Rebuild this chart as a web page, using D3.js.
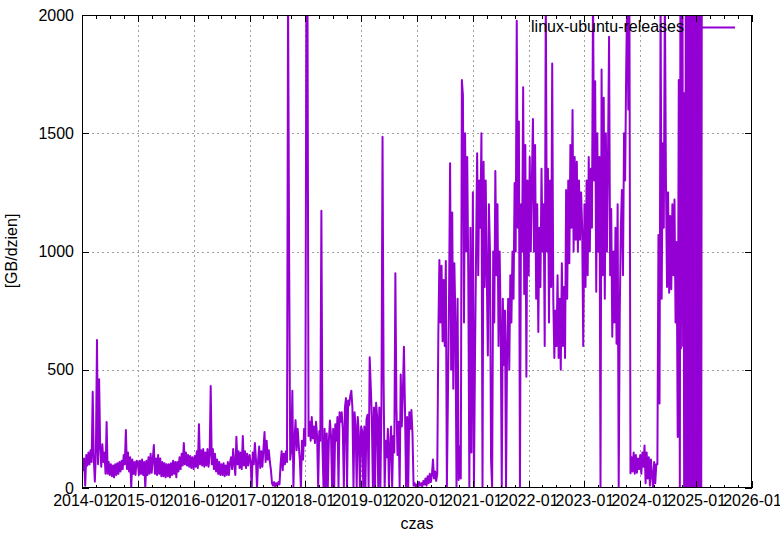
<!DOCTYPE html>
<html><head><meta charset="utf-8">
<script src="https://cdn.jsdelivr.net/npm/d3@7"></script>
<style>
body{margin:0;background:#fff}
svg text{font-family:"Liberation Sans",Arial,sans-serif}
</style>
</head><body>
<svg id="chart" width="780" height="538"></svg>
<script>
// ---- data (weekly samples, GB/day) ----
const seriesName = "linux-ubuntu-releases";
const yTickValues = [0, 500, 1000, 1500, 2000];
const xTickYears = [2014,2015,2016,2017,2018,2019,2020,2021,2022,2023,2024,2025,2026];
const xLabel = "czas";
const yLabel = "[GB/dzien]";

const v2014 = [130,75,125,10,140,95,150,100,160,110,407,130,27,150,626,100,460,170,90,185,110,150,60,279,60,110,55,100,50,95,45,100,55,105,60,110,70,115,80,140,100,245,80,150,70,130,0,120,60,110,55,115];
const v2015 = [110,55,115,60,120,55,110,0,115,55,130,60,145,65,120,182,60,125,55,140,60,125,50,110,50,105,45,100,50,100,45,105,55,115,60,110,45,110,70,130,80,145,95,190,100,150,95,140,90,135,85,130];
const v2016 = [80,135,90,155,85,270,100,160,95,165,90,150,95,165,90,140,431,100,165,80,145,70,120,60,110,55,100,55,105,50,95,55,110,55,105,130,80,165,100,55,217,100,155,85,150,80,220,95,155,85,145,95];
const v2017 = [140,110,0,150,100,190,120,0,115,175,85,155,90,165,237,110,200,120,160,110,76,20,10,25,5,20,10,25,15,100,155,75,145,100,155,110,2100,985,120,160,411,0,200,287,160,250,180,120,0,200,120,250];
const v2018 = [180,2100,2100,220,280,200,300,210,260,190,280,220,0,240,200,1172,180,0,250,0,230,0,200,285,220,0,250,0,270,200,300,0,320,280,320,250,0,340,380,0,370,350,390,411,340,0,320,260,0,300,230,0];
const v2019 = [260,240,0,260,0,290,310,0,553,430,300,0,340,0,360,300,0,340,0,350,1485,456,0,200,130,250,0,180,260,0,220,150,908,340,140,280,0,480,260,400,597,330,0,300,0,320,250,330,230,10,20,5];
const v2020 = [15,5,25,10,20,5,30,15,40,10,50,20,60,25,55,120,40,70,30,60,647,964,700,940,620,880,600,960,0,400,800,1373,500,1165,420,950,700,0,800,34,175,40,1725,1660,700,1500,1000,1400,900,0,1100,150];
const v2021 = [1250,0,560,1000,1415,900,1300,1100,1500,0,1380,850,1300,900,560,1200,1000,118,0,1000,700,1340,900,1200,600,1000,700,0,800,520,750,0,600,800,500,900,700,1000,800,1290,1000,1976,1100,1550,0,1200,1000,1695,820,1450,470,1300];
const v2022 = [900,1400,1000,1300,1560,1000,1450,800,1200,660,1100,850,1350,1000,1200,600,2100,1000,1350,700,1300,850,1795,800,550,750,600,900,550,800,500,950,600,850,550,1260,800,1300,950,1450,1100,1598,1000,1400,1050,1380,1000,1300,1050,1250,1100,600];
const v2023 = [1200,850,1300,900,1400,1000,1350,1100,2100,1300,1720,830,1500,1000,1400,0,1770,900,1650,800,1500,1000,1400,1908,900,1180,640,1000,700,1100,610,1200,0,750,1100,1260,900,1500,1300,1770,2100,1600,2100,62,130,70,150,60,140,65,125,80];
const v2024 = [140,60,150,90,180,20,150,40,130,10,120,55,0,110,20,100,100,1070,357,2100,800,1458,1100,2100,1300,850,1250,826,1150,840,1200,900,1220,700,1040,216,1725];
// half-weekly samples for the final burst (from 2024-09-16), where the daily series swings 0 <-> >2000
const burstStart = "2024-09-16";
const burst = [0,2100,590,2100,700,2100,600,1670,0,1670,0,2100,0,2100,0,2100,0,2100,0,2100,0,2100,0,2100,0,2100,0,2100,0,2100,0,2100,0,2100,0,2100,0,2100,0,2100,0,2100];

const yearly = [[2014,v2014],[2015,v2015],[2016,v2016],[2017,v2017],[2018,v2018],[2019,v2019],
  [2020,v2020],[2021,v2021],[2022,v2022],[2023,v2023],[2024,v2024]];
const DAY = 86400000;
const data = [];
yearly.forEach(([yr, vals]) => vals.forEach((v, i) =>
  data.push({date: new Date(Date.UTC(yr, 0, 1 + 7 * i)), value: v})));
const b0 = d3.utcParse("%Y-%m-%d")(burstStart).getTime();
burst.forEach((v, i) => data.push({date: new Date(b0 + i * 3.5 * DAY), value: v}));

// ---- layout ----
const L = 82, R = 752, T = 15, B = 488;
const svg = d3.select("#chart");
const x = d3.scaleUtc()
  .domain([new Date(Date.UTC(xTickYears[0],0,1)), new Date(Date.UTC(xTickYears[xTickYears.length-1],0,1))])
  .range([L, R]);
const y = d3.scaleLinear().domain([0, 2000]).range([B, T]);

const yearDates = xTickYears.map(yr => new Date(Date.UTC(yr, 0, 1)));
const quarterDates = d3.utcMonth.every(3).range(yearDates[0], yearDates[yearDates.length-1])
  .filter(d => d.getUTCMonth() !== 0);

// ---- grid ----
const grid = svg.append("g").attr("stroke", "#a0a0a0").attr("stroke-width", 1)
  .attr("stroke-dasharray", "2,3").attr("shape-rendering", "crispEdges");
grid.selectAll("line.gx").data(yearDates.slice(1, -1)).join("line")
  .attr("x1", d => Math.round(x(d)) + 0.5).attr("x2", d => Math.round(x(d)) + 0.5)
  .attr("y1", T).attr("y2", B);
grid.selectAll("line.gy").data(yTickValues.slice(1, -1)).join("line")
  .attr("y1", d => Math.round(y(d)) + 0.5).attr("y2", d => Math.round(y(d)) + 0.5)
  .attr("x1", L).attr("x2", R);

// ---- data line ----
svg.append("clipPath").attr("id", "clip").append("rect")
  .attr("x", L).attr("y", T).attr("width", R - L).attr("height", B - T);
svg.append("path").datum(data)
  .attr("clip-path", "url(#clip)")
  .attr("fill", "none").attr("stroke", "#9400D3").attr("stroke-width", 2)
  .attr("stroke-linejoin", "round")
  .attr("d", d3.line().x(d => x(d.date)).y(d => y(d.value)));

// ---- axes ----
function styleAxis(g) {
  g.select(".domain").remove();
  g.selectAll("line").attr("stroke", "#000").attr("shape-rendering", "crispEdges");
  g.selectAll("text").attr("font-size", 16).attr("fill", "#000")
    .attr("font-family", '"Liberation Sans", Arial, sans-serif');
}
svg.append("g").attr("transform", `translate(0,${B})`)
  .call(d3.axisBottom(x).tickValues(yearDates).tickFormat(d3.utcFormat("%Y-%m"))
    .tickSizeInner(-7).tickSizeOuter(0).tickPadding(7)).call(styleAxis);
svg.append("g").attr("transform", `translate(0,${B})`)
  .call(d3.axisBottom(x).tickValues(quarterDates).tickFormat("")
    .tickSizeInner(-3.5).tickSizeOuter(0)).call(styleAxis);
svg.append("g").attr("transform", `translate(0,${T})`)
  .call(d3.axisTop(x).tickValues(yearDates).tickFormat("")
    .tickSizeInner(-7).tickSizeOuter(0)).call(styleAxis);
svg.append("g").attr("transform", `translate(0,${T})`)
  .call(d3.axisTop(x).tickValues(quarterDates).tickFormat("")
    .tickSizeInner(-3.5).tickSizeOuter(0)).call(styleAxis);
svg.append("g").attr("transform", `translate(${L},0)`)
  .call(d3.axisLeft(y).tickValues(yTickValues).tickFormat(d3.format("d"))
    .tickSizeInner(-7).tickSizeOuter(0).tickPadding(8)).call(styleAxis);
svg.append("g").attr("transform", `translate(${R},0)`)
  .call(d3.axisRight(y).tickValues(yTickValues).tickFormat("")
    .tickSizeInner(-7).tickSizeOuter(0)).call(styleAxis);

// border
svg.append("rect").attr("x", L + 0.5).attr("y", T + 0.5)
  .attr("width", R - L - 1).attr("height", B - T - 1)
  .attr("fill", "none").attr("stroke", "#000").attr("stroke-width", 1)
  .attr("shape-rendering", "crispEdges");

// ---- labels ----
svg.append("text").attr("x", 417).attr("y", 529).attr("text-anchor", "middle")
  .attr("font-size", 16).text(xLabel);
svg.append("text").attr("transform", "translate(17,251) rotate(-90)")
  .attr("text-anchor", "middle").attr("font-size", 16).text(yLabel);

// ---- legend ----
svg.append("text").attr("x", 684).attr("y", 32).attr("text-anchor", "end")
  .attr("font-size", 16).text(seriesName);
svg.append("line").attr("x1", 701).attr("x2", 735).attr("y1", 27.5).attr("y2", 27.5)
  .attr("stroke", "#9400D3").attr("stroke-width", 2);
</script>
</body></html>
